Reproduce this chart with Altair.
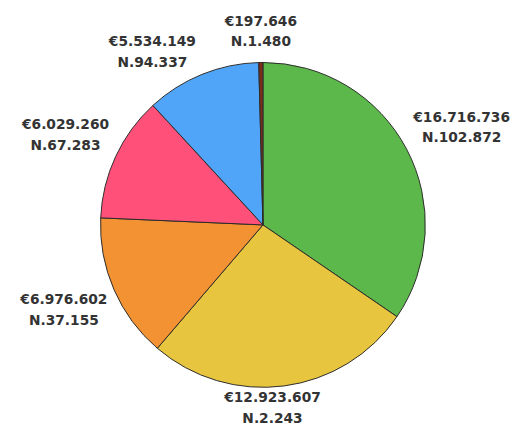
import altair as alt
import pandas as pd

amounts = [16716736, 12923607, 6976602, 6029260, 5534149, 197646]
amount_labels = ["€16.716.736", "€12.923.607", "€6.976.602", "€6.029.260", "€5.534.149", "€197.646"]
count_labels = ["N.102.872", "N.2.243", "N.37.155", "N.67.283", "N.94.337", "N.1.480"]
colors = ["#5cb84a", "#e8c53e", "#f39232", "#fe5078", "#50a5f8", "#7a2e1a"]

df = pd.DataFrame({
    "idx": list(range(len(amounts))),
    "amount": amounts,
    "amt_label": amount_labels,
    "cnt_label": count_labels,
    "color": colors,
})

base = alt.Chart(df).transform_joinaggregate(
    total="sum(amount)"
).transform_window(
    cum="sum(amount)", sort=[alt.SortField("idx")], frame=[None, 0]
).transform_calculate(
    end="datum.cum / datum.total",
    start="(datum.cum - datum.amount) / datum.total",
    mid="(datum.cum - datum.amount / 2) / datum.total",
).transform_calculate(
    sx="sin(datum.mid * 2 * PI)",
    cy="cos(datum.mid * 2 * PI)",
).transform_calculate(
    side="abs(datum.sx) < 0.2 ? 'center' : (datum.sx > 0 ? 'right' : 'left')",
    vert="datum.cy > 0 ? 'up' : 'down'",
)

theta_scale = alt.Scale(domain=[0, 1], range=[0, 6.283185307179586])

arcs = base.mark_arc(radius=165, stroke="#2b2b2b", strokeWidth=1).encode(
    theta=alt.Theta("start:Q", scale=theta_scale, stack=None),
    theta2="end:Q",
    color=alt.Color("color:N", scale=None),
)

layers = [arcs]
offsets = {
    ("left", "up"): (-50, -21),
    ("left", "down"): (-50, 21),
    ("right", "up"): (55, -21),
    ("right", "down"): (55, 21),
    ("center", "up"): (0, -30),
    ("center", "down"): (-12, 22),
}
for (side, vert), (dx, dy) in offsets.items():
    sub = base.transform_filter(
        f"datum.side == '{side}' && datum.vert == '{vert}'"
    )
    for field, off in [("amt_label", -10.5), ("cnt_label", 10.5)]:
        layers.append(
            sub.mark_text(
                radius=166, align="center", baseline="middle", fontSize=14,
                fontWeight="bold", font="DejaVu Sans", color="#333333",
                dx=dx, dy=dy + off,
            ).encode(
                theta=alt.Theta("mid:Q", scale=theta_scale, stack=None),
                text=f"{field}:N",
            )
        )

chart = alt.layer(*layers).properties(
    width=490,
    height=390,
    padding={"left": 14, "top": 22, "right": 7, "bottom": 10},
    autosize=alt.AutoSizeParams(type="none"),
).configure_view(stroke=None)

chart.save("out.html", embed_options={"renderer": "svg", "actions": False})
